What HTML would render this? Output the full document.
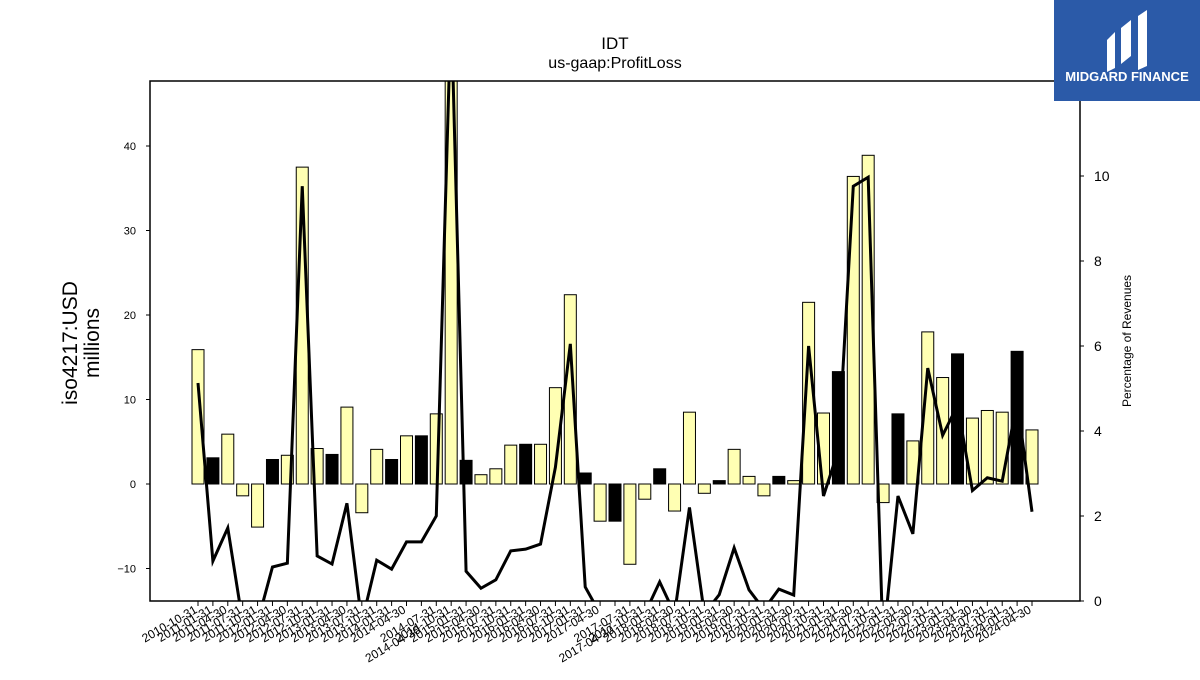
<!DOCTYPE html>
<html><head><meta charset="utf-8"><style>
body{margin:0;background:#fff;width:1200px;height:675px;overflow:hidden;font-family:"Liberation Sans","DejaVu Sans",sans-serif}
</style></head><body>
<svg id="chart" width="1200" height="675" xmlns="http://www.w3.org/2000/svg">
<text x="615" y="49" text-anchor="middle" font-size="17">IDT</text>
<text x="615" y="68" text-anchor="middle" font-size="16">us-gaap:ProfitLoss</text>
<g id="plot"></g>
<text transform="translate(77,343) rotate(-90)" text-anchor="middle" font-size="21">iso4217:USD</text>
<text transform="translate(99,343) rotate(-90)" text-anchor="middle" font-size="21">millions</text>
<text transform="translate(1131,341) rotate(-90)" text-anchor="middle" font-size="12">Percentage of Revenues</text>
<g>
<rect x="1054" y="0" width="146" height="101" fill="#2b5aa8"/>
<path d="M1107 40 L1115 32 L1115 68 L1107 72 Z M1121 28 L1131 20 L1131 56 L1121 64 Z M1138 16 L1147 10 L1147 66 L1138 70 Z" fill="#fff"/>
<text x="1127" y="81" text-anchor="middle" font-size="13" font-weight="bold" fill="#fff">MIDGARD FINANCE</text>
</g>
</svg>
<script>
const categories=[];
(function(){let y=2010,m=10;const d={1:'31',4:'30',7:'31',10:'31'};while(y<2024||(y===2024&&m<=4)){categories.push(y+'-'+String(m).padStart(2,'0')+'-'+d[m]);if(y===2014&&m===4)categories.push('2014-04-30');if(y===2017&&m===4)categories.push('2017-04-30');m+=3;if(m>12){m=1;y++;}}})();
const barValues=[15.9,3.1,5.9,-1.4,-5.1,2.9,3.4,37.5,4.2,3.5,9.1,-3.4,4.1,2.9,5.7,5.7,8.3,60,2.8,1.1,1.8,4.6,4.7,4.7,11.4,22.4,1.3,-4.4,-4.4,-9.5,-1.8,1.8,-3.2,8.5,-1.1,0.4,4.1,0.9,-1.4,0.9,0.4,21.5,8.4,13.3,36.4,38.9,-2.2,8.3,5.1,18.0,12.6,15.4,7.8,8.7,8.5,15.7,6.4];
const barDark=[0,1,0,0,0,1,0,0,0,1,0,0,0,1,0,1,0,0,1,0,0,0,1,0,0,0,1,0,1,0,0,1,0,0,0,1,0,0,0,1,0,0,0,1,0,0,0,1,0,0,0,1,0,0,0,1,0];
const pctValues=[5.13,0.94,1.72,-0.5,-0.5,0.8,0.89,9.76,1.06,0.87,2.3,-0.5,0.96,0.75,1.39,1.39,2.0,14,0.7,0.3,0.5,1.18,1.22,1.34,3.15,6.05,0.33,-0.3,-0.3,-0.3,-0.3,0.45,-0.3,2.2,-0.3,0.15,1.25,0.26,-0.2,0.28,0.14,6.0,2.47,3.55,9.76,9.97,-1,2.47,1.58,5.48,3.9,4.6,2.6,2.9,2.82,4.7,2.1];
const leftTicks=[-10,0,10,20,30,40];
const rightTicks=[0,2,4,6,8,10];
const NS='http://www.w3.org/2000/svg';
const L=150,R=1080,T=81,B=601;
const xs=i=>198+i*(1032-198)/(categories.length-1);
const yL=v=>484-v*8.45;
const yR=v=>601-v*42.5;
const g=document.getElementById('plot');
function mk(t,a){const e=document.createElementNS(NS,t);for(const k in a)e.setAttribute(k,a[k]);return e;}
const defs=mk('defs',{});const cp=mk('clipPath',{id:'c'});cp.appendChild(mk('rect',{x:L,y:T,width:R-L,height:B-T}));defs.appendChild(cp);g.appendChild(defs);
const cg=mk('g',{'clip-path':'url(#c)'});g.appendChild(cg);
barValues.forEach((v,i)=>{const y0=yL(0),y1=yL(v);const r=mk('rect',{x:xs(i)-6,y:Math.min(y0,y1),width:12,height:Math.abs(y1-y0),fill:barDark[i]?'#000':'#ffffb3',stroke:'#000','stroke-width':1});


cg.appendChild(r);});
const line=mk('polyline',{points:pctValues.map((v,i)=>xs(i)+','+yR(v)).join(' '),fill:'none',stroke:'#000','stroke-width':3,'stroke-linejoin':'miter'});


cg.appendChild(line);
const frame=mk('rect',{x:L,y:T,width:R-L,height:B-T,fill:'none',stroke:'#000','stroke-width':1.5});


g.appendChild(frame);
leftTicks.forEach(t=>{const y=yL(t);g.appendChild(mk('line',{x1:L-4,x2:L,y1:y,y2:y,stroke:'#000'}));const tx=mk('text',{x:L-14,y:y+4,'text-anchor':'end','font-size':11});tx.textContent=t===-10?'\u221210':t;


g.appendChild(tx);});
rightTicks.forEach(t=>{const y=yR(t);g.appendChild(mk('line',{x1:R,x2:R+4,y1:y,y2:y,stroke:'#000'}));const tx=mk('text',{x:R+14,y:y+5,'font-size':14});tx.textContent=t;


g.appendChild(tx);});
categories.forEach((c,i)=>{const x=xs(i);g.appendChild(mk('line',{x1:x,x2:x,y1:B,y2:B+5,stroke:'#000'}));const dup=(i>0&&categories[i-1]===c);const yy=dup?632:612;const tx=mk('text',{x:x,y:yy,'text-anchor':'end','font-size':12,transform:'rotate(-30 '+x+' '+yy+')'});tx.textContent=c;


g.appendChild(tx);});
</script>
</body></html>
